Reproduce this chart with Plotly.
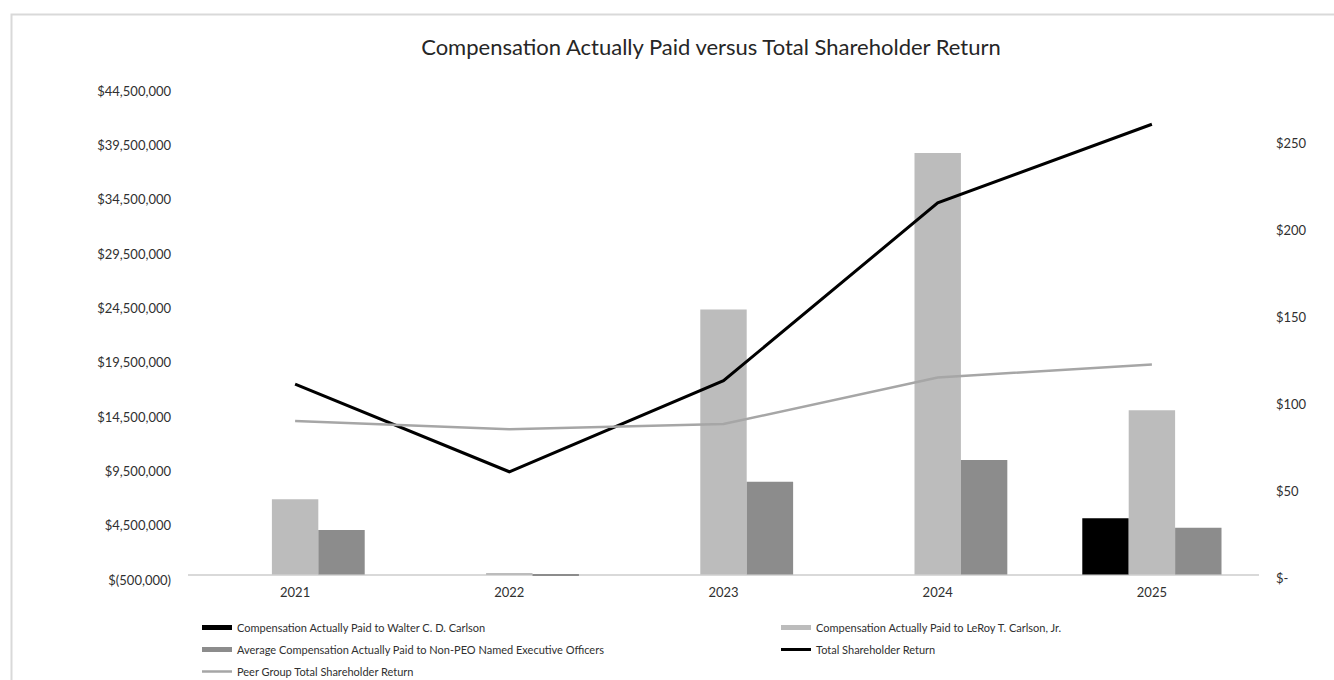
import plotly.graph_objects as go

# ---- data -------------------------------------------------------------
years = ["2021", "2022", "2023", "2024", "2025"]

cap_walter = [None, None, None, None, 5_180_000]
cap_leroy = [6_930_000, 120_000, 24_400_000, 38_800_000, 15_130_000]
cap_neo_avg = [4_100_000, -60_000, 8_540_000, 10_540_000, 4_310_000]

tsr = [111.8, 61.4, 113.7, 215.9, 261.1]
peer_tsr = [90.5, 85.8, 88.8, 115.6, 123.1]

left_tickvals = list(range(-500_000, 44_500_001, 5_000_000))
left_ticktext = [f"$({-v:,})" if v < 0 else f"${v:,}" for v in left_tickvals]

right_tickvals = [0, 50, 100, 150, 200, 250]
right_ticktext = ["$-", "$50", "$100", "$150", "$200", "$250"]

names = {
    "walter": "Compensation Actually Paid to Walter C. D. Carlson",
    "leroy": "Compensation Actually Paid to LeRoy T. Carlson, Jr.",
    "neo": "Average Compensation Actually Paid to Non-PEO Named Executive Officers",
    "tsr": "Total Shareholder Return",
    "peer": "Peer Group Total Shareholder Return",
}

# ---- styling ----------------------------------------------------------
FONT = "Lato, 'Open Sans', sans-serif"
TEXT = "#303030"
C_WALTER = "#000000"
C_LEROY = "#bcbcbc"
C_NEO = "#8c8c8c"
C_TSR = "#000000"
C_PEER = "#a6a6a6"

W, H = 1334, 680
ML, MR, MT, MB = 188, 75, 91, 100
PW, PH = W - ML - MR, H - MT - MB

fig = go.Figure()

# bars on the left axis
for vals, col in ((cap_walter, C_WALTER), (cap_leroy, C_LEROY), (cap_neo_avg, C_NEO)):
    fig.add_trace(go.Bar(x=years, y=vals, marker=dict(color=col, line=dict(width=0)),
                         showlegend=False, yaxis="y"))

# lines on the right axis
fig.add_trace(go.Scatter(x=years, y=tsr, mode="lines", name=names["tsr"],
                         line=dict(color=C_TSR, width=3), yaxis="y2",
                         legend="legend2", legendgroup="tsr", legendrank=2))
fig.add_trace(go.Scatter(x=years, y=peer_tsr, mode="lines", name=names["peer"],
                         line=dict(color=C_PEER, width=2.5), yaxis="y2",
                         legend="legend", legendgroup="peer", legendrank=3))


# wide legend swatches for the bar series
def swatch(name, col, legend, group, order):
    fig.add_trace(go.Scatter(x=[None], y=[None], mode="lines", name=name,
                             line=dict(color=col, width=5), legend=legend,
                             legendgroup=group, legendrank=order, yaxis="y"))


swatch(names["walter"], C_WALTER, "legend", "walter", 1)
swatch(names["neo"], C_NEO, "legend", "neo", 2)
swatch(names["leroy"], C_LEROY, "legend2", "leroy", 1)

legend_common = dict(
    orientation="v", xref="container", yref="container", xanchor="left", yanchor="top",
    font=dict(family=FONT, size=11, color=TEXT), tracegroupgap=3,
    bgcolor="rgba(0,0,0,0)", borderwidth=0, traceorder="grouped",
)

fig.update_layout(
    width=W, height=H,
    margin=dict(l=ML, r=MR, t=MT, b=MB, pad=0, autoexpand=False),
    paper_bgcolor="white", plot_bgcolor="white",
    font=dict(family=FONT, color=TEXT),
    title=dict(text="Compensation Actually Paid versus Total Shareholder Return",
               x=711 / W, xanchor="center", xref="container",
               y=1 - 47 / H, yanchor="middle", yref="container",
               font=dict(family=FONT, size=22, color="#262626")),
    barmode="group", bargap=0.35, bargroupgap=0,
    xaxis=dict(type="category", categoryorder="array", categoryarray=years,
               range=[-0.5, len(years) - 0.5],
               showgrid=False, showline=False, zeroline=False,
               ticks="", tickfont=dict(size=13, color=TEXT), ticklabelstandoff=3),
    yaxis=dict(range=[-500_000, 44_500_000], tickvals=left_tickvals, ticktext=left_ticktext,
               showgrid=False, showline=False, ticks="",
               zeroline=True, zerolinecolor="#d9d9d9", zerolinewidth=1.5,
               tickfont=dict(size=13, color=TEXT), ticklabelstandoff=16),
    yaxis2=dict(range=[-0.8, 280.2], tickvals=right_tickvals, ticktext=right_ticktext,
                overlaying="y", side="right", showgrid=False, showline=False,
                zeroline=False, ticks="",
                tickfont=dict(size=13, color=TEXT), ticklabelstandoff=16),
    legend=dict(x=197 / W, y=1 - 613 / H, **legend_common),
    legend2=dict(x=776 / W, y=1 - 613 / H, **legend_common),
    shapes=[dict(type="rect", xref="paper", yref="paper",
                 x0=(11.5 - ML) / PW, x1=(W + 10 - ML) / PW,
                 y0=(H - MB - (H + 10)) / PH, y1=(H - MB - 14.5) / PH,
                 line=dict(color="#d9d9d9", width=2), fillcolor="rgba(0,0,0,0)",
                 layer="below")],
)

fig.write_html("out.html")
